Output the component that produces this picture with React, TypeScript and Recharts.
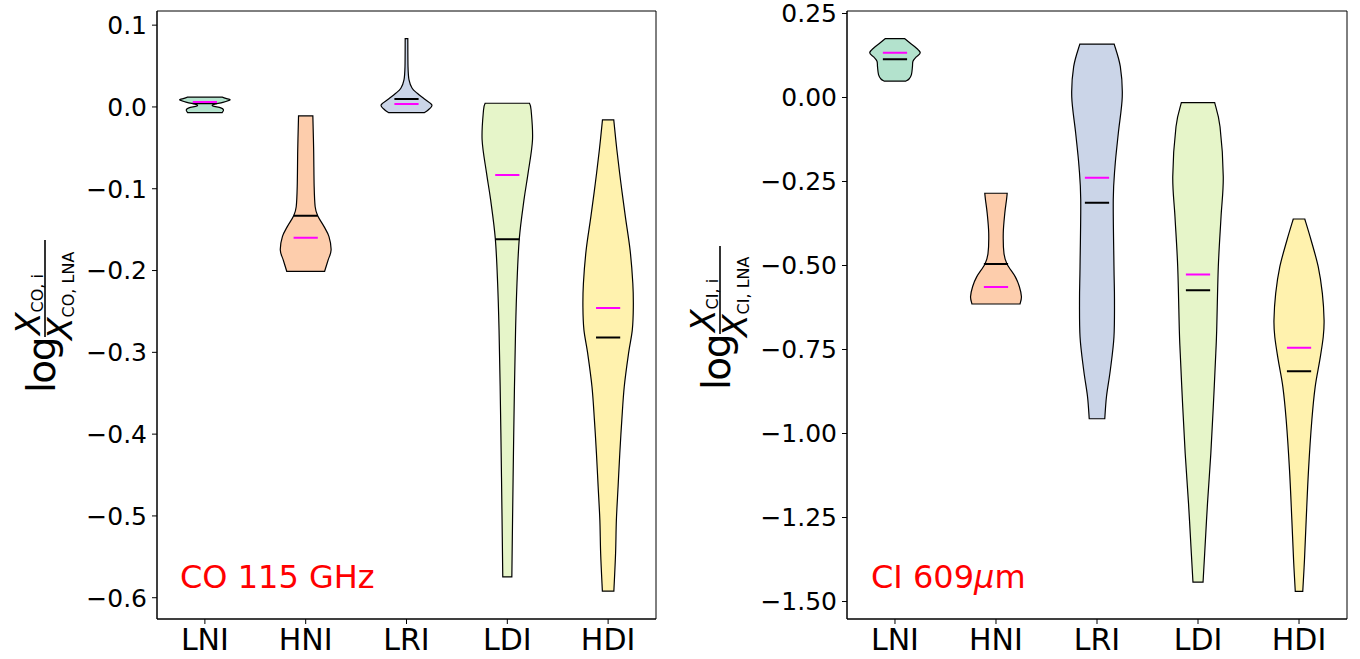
import React from "react";
import { ComposedChart, XAxis, YAxis, Scatter, ReferenceArea } from "recharts";

const FONT = "DejaVu Sans";
const CATEGORIES = ["LNI", "HNI", "LRI", "LDI", "HDI"];
const POSITIONS = [1, 2, 3, 4, 5];
const PASTEL = ["#b3e2cd", "#fdcdac", "#cbd5e8", "#e6f5c9", "#fff2ae"];
const X_DOMAIN = [0.525, 5.475];

// violin outlines, bottom to top: [log ratio, half width in category units]
const CO_LNI = [[-0.007, 0.171], [-0.0037, 0.185], [-0.0012, 0.158], [0.0012, 0.079], [0.0031, 0.089], [0.0055, 0.178], [0.0086, 0.25], [0.0104, 0.208], [0.0119, 0.173]];
const CO_HNI = [[-0.2009, 0.188], [-0.187, 0.223], [-0.175, 0.252], [-0.1585, 0.231], [-0.146, 0.181], [-0.133, 0.119], [-0.122, 0.094], [-0.0974, 0.084], [-0.0526, 0.079], [-0.011, 0.071]];
const CO_LRI = [[-0.007, 0.176], [-0.0037, 0.215], [0.0024, 0.252], [0.0098, 0.178], [0.0167, 0.107], [0.0229, 0.056], [0.033, 0.025], [0.049, 0.015], [0.0835, 0.013]];
const CO_LDI = [[-0.5746, 0.045], [-0.505, 0.052], [-0.423, 0.061], [-0.342, 0.071], [-0.2726, 0.082], [-0.2155, 0.096], [-0.161, 0.119], [-0.114, 0.165], [-0.081, 0.206], [-0.04, 0.25], [-0.0037, 0.236], [0.0045, 0.22]];
const CO_HDI = [[-0.592, 0.057], [-0.546, 0.074], [-0.505, 0.082], [-0.464, 0.099], [-0.423, 0.116], [-0.3826, 0.136], [-0.342, 0.16], [-0.301, 0.203], [-0.2726, 0.24], [-0.245, 0.25], [-0.2155, 0.245], [-0.175, 0.218], [-0.134, 0.171], [-0.0933, 0.127], [-0.0526, 0.087], [-0.0159, 0.056]];
const CO_MEANS = [0.006, -0.16, 0.0037, -0.0831, -0.2457];
const CO_MEDIANS = [0.0045, -0.133, 0.0098, -0.1617, -0.282];
const CO_TICKS = [0.1, 0, -0.1, -0.2, -0.3, -0.4, -0.5, -0.6];
const CO_DOMAIN = [-0.626, 0.1173];

const CI_LNI = [[0.049, 0.107], [0.055, 0.139], [0.068, 0.163], [0.0917, 0.173], [0.108, 0.178], [0.12, 0.208], [0.133, 0.25], [0.148, 0.208], [0.162, 0.149], [0.175, 0.097]];
const CI_HNI = [[-0.6146, 0.238], [-0.593, 0.252], [-0.5625, 0.231], [-0.533, 0.19], [-0.4955, 0.109], [-0.464, 0.079], [-0.404, 0.072], [-0.345, 0.087], [-0.305, 0.104], [-0.285, 0.111]];
const CI_LRI = [[-0.956, 0.077], [-0.89, 0.094], [-0.811, 0.132], [-0.712, 0.168], [-0.6, 0.173], [-0.5036, 0.168], [-0.305, 0.161], [-0.206, 0.178], [-0.1066, 0.211], [0.0024, 0.25], [0.0917, 0.231], [0.159, 0.17]];
const CI_LDI = [[-1.442, 0.05], [-1.357, 0.066], [-1.208, 0.094], [-1.059, 0.127], [-0.91, 0.153], [-0.761, 0.176], [-0.692, 0.185], [-0.5036, 0.201], [-0.355, 0.228], [-0.2357, 0.25], [-0.087, 0.218], [-0.0155, 0.165]];
const CI_HDI = [[-1.47, 0.037], [-1.376, 0.054], [-1.257, 0.071], [-1.109, 0.094], [-0.96, 0.127], [-0.861, 0.16], [-0.781, 0.206], [-0.712, 0.24], [-0.662, 0.248], [-0.583, 0.231], [-0.5036, 0.19], [-0.424, 0.119], [-0.3616, 0.057]];
const CI_MEANS = [0.1333, -0.564, -0.2387, -0.527, -0.7446];
const CI_MEDIANS = [0.1137, -0.4955, -0.313, -0.574, -0.815];
const CI_TICKS = [0.25, 0, -0.25, -0.5, -0.75, -1, -1.25, -1.5];
const CI_DOMAIN = [-1.552, 0.2574];

const STAT_HALF = 0.12;

type Pt = { x: number; y: number };

// right side going up, then left side coming down
const outline = (profile: number[][], pos: number) => [
  ...profile.map(([y, w]) => ({ x: pos + w, y })),
  ...profile
    .slice()
    .reverse()
    .map(([y, w]) => ({ x: pos - w, y })),
];

const statSegments = (vals: number[]) =>
  vals.flatMap((v, i) => [
    { x: POSITIONS[i] - STAT_HALF, y: v },
    { x: POSITIONS[i] + STAT_HALF, y: v },
  ]);

// catmull-rom through the pixel points
const smooth = (pts: Pt[]) => {
  let d = "";
  for (let i = 0; i < pts.length - 1; i++) {
    const p0 = pts[Math.max(i - 1, 0)];
    const p1 = pts[i];
    const p2 = pts[i + 1];
    const p3 = pts[Math.min(i + 2, pts.length - 1)];
    const c1x = p1.x + (p2.x - p0.x) / 6;
    const c1y = p1.y + (p2.y - p0.y) / 6;
    const c2x = p2.x - (p3.x - p1.x) / 6;
    const c2y = p2.y - (p3.y - p1.y) / 6;
    d += ` C${c1x},${c1y} ${c2x},${c2y} ${p2.x},${p2.y}`;
  }
  return d;
};

const violinLine = (fill: string) => (props: any) => {
  const pts: Pt[] = props.points || [];
  if (pts.length < 4) return <g />;
  const half = pts.length / 2;
  const right = pts.slice(0, half);
  const left = pts.slice(half);
  const d =
    `M${right[0].x},${right[0].y}` +
    smooth(right) +
    ` L${left[0].x},${left[0].y}` +
    smooth(left) +
    " Z";
  return <path d={d} fill={fill} stroke="#000" strokeWidth={1.2} />;
};

const segmentLine = (color: string) => (props: any) => {
  const pts: Pt[] = props.points || [];
  let d = "";
  for (let i = 0; i + 1 < pts.length; i += 2) {
    d += `M${pts[i].x},${pts[i].y} L${pts[i + 1].x},${pts[i + 1].y} `;
  }
  return <path d={d} fill="none" stroke={color} strokeWidth={2} />;
};

const EmptyDot = () => <g />;

type PanelProps = {
  profiles: number[][][];
  means: number[];
  medians: number[];
  ticks: number[];
  domain: number[];
  digits: number;
  left: number;
  marginLeft: number;
  marginRight: number;
};

function ViolinPanel({ profiles, means, medians, ticks, domain, digits, left, marginLeft, marginRight }: PanelProps) {
  const tickStyle = { fill: "#000", fontFamily: FONT };
  return (
    <div style={{ position: "absolute", left, top: 0 }}>
      <ComposedChart
        width={680}
        height={659}
        margin={{ top: 11, right: marginRight, bottom: 0, left: marginLeft }}
      >
        <XAxis
          dataKey="x"
          type="number"
          domain={X_DOMAIN}
          ticks={POSITIONS}
          interval={0}
          allowDataOverflow
          tickFormatter={(v: number) => CATEGORIES[v - 1]}
          tick={{ ...tickStyle, fontSize: 30 }}
          tickSize={5}
          tickMargin={5}
          height={40}
          axisLine={{ stroke: "#000" }}
          tickLine={{ stroke: "#000" }}
        />
        <YAxis
          dataKey="y"
          type="number"
          domain={domain}
          ticks={ticks}
          interval={0}
          allowDataOverflow
          tickFormatter={(v: number) => v.toFixed(digits).replace("-", "\u2212")}
          tick={{ ...tickStyle, fontSize: 25 }}
          tickSize={5}
          tickMargin={5}
          width={100}
          axisLine={{ stroke: "#000" }}
          tickLine={{ stroke: "#000" }}
        />
        <ReferenceArea
          x1={X_DOMAIN[0]}
          x2={X_DOMAIN[1]}
          y1={domain[0]}
          y2={domain[1]}
          fill="none"
          fillOpacity={0}
          stroke="#000"
          strokeWidth={1}
          ifOverflow="visible"
        />
        {profiles.map((p, i) => (
          <Scatter
            key={CATEGORIES[i]}
            data={outline(p, POSITIONS[i])}
            line={violinLine(PASTEL[i])}
            shape={EmptyDot}
            isAnimationActive={false}
          />
        ))}
        <Scatter
          data={statSegments(medians)}
          line={segmentLine("#000")}
          shape={EmptyDot}
          isAnimationActive={false}
        />
        <Scatter
          data={statSegments(means)}
          line={segmentLine("#ff00ff")}
          shape={EmptyDot}
          isAnimationActive={false}
        />
      </ComposedChart>
    </div>
  );
}

// rotated mathtext-like axis label: log X_sp,i / X_sp,LNA
function RatioLabel({ x, y, species, barLen }: { x: number; y: number; species: string; barLen: number }) {
  return (
    <g transform={`translate(${x},${y}) rotate(-90)`} fontFamily={FONT} fill="#000">
      <text x={-1} y={10} fontSize={39} letterSpacing={-1.5}>log</text>
      <line x1={55} x2={55 + barLen} y1={0} y2={0} stroke="#000" strokeWidth={1.6} />
      <text x={57} y={-5} fontSize={33}>
        <tspan fontStyle="italic">X</tspan>
        <tspan fontSize={16} dy={2.5}>{species}, i</tspan>
      </text>
      <text x={52} y={27} fontSize={33}>
        <tspan fontStyle="italic">X</tspan>
        <tspan fontSize={16} dy={1.5}>{species}, LNA</tspan>
      </text>
    </g>
  );
}

export default function App() {
  return (
    <div style={{ position: "absolute", left: 0, top: 0, width: 1360, height: 659, background: "#fff" }}>
      <ViolinPanel
        profiles={[CO_LNI, CO_HNI, CO_LRI, CO_LDI, CO_HDI]}
        means={CO_MEANS}
        medians={CO_MEDIANS}
        ticks={CO_TICKS}
        domain={CO_DOMAIN}
        digits={1}
        left={0}
        marginLeft={57}
        marginRight={24}
      />
      <ViolinPanel
        profiles={[CI_LNI, CI_HNI, CI_LRI, CI_LDI, CI_HDI]}
        means={CI_MEANS}
        medians={CI_MEDIANS}
        ticks={CI_TICKS}
        domain={CI_DOMAIN}
        digits={2}
        left={680}
        marginLeft={67}
        marginRight={13}
      />
      <svg
        width={1360}
        height={659}
        style={{ position: "absolute", left: 0, top: 0, pointerEvents: "none" }}
      >
        <RatioLabel x={45} y={392} species="CO" barLen={97} />
        <RatioLabel x={720} y={389} species="CI" barLen={88} />
        <text x={180} y={588} fontSize={32} fill="#ff0000" fontFamily={FONT}>
          CO 115 GHz
        </text>
        <text x={871} y={588} fontSize={32} fill="#ff0000" fontFamily={FONT}>
          CI 609<tspan fontStyle="italic">μ</tspan>m
        </text>
      </svg>
    </div>
  );
}
